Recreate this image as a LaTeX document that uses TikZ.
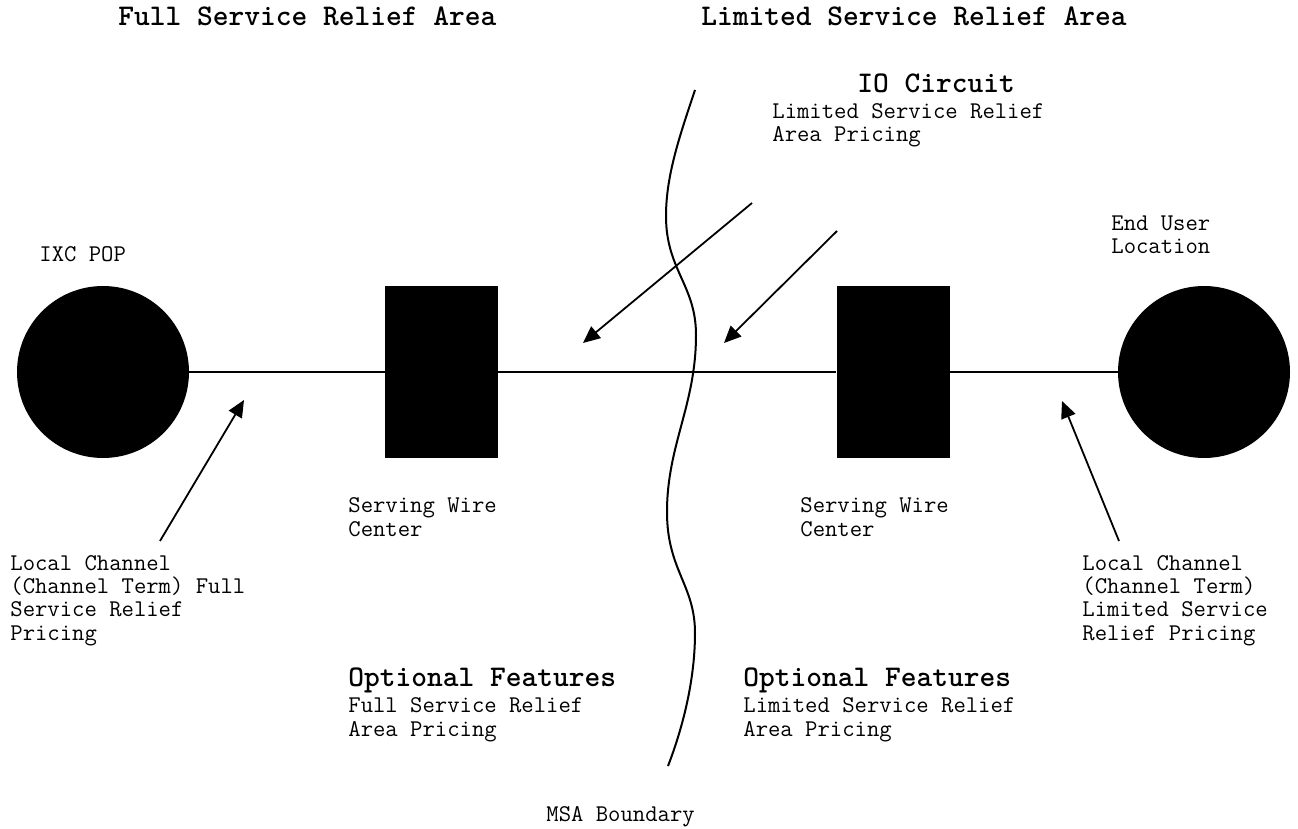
\documentclass[tikz,border=0pt]{standalone}
\usepackage{fontspec}
\usetikzlibrary{arrows.meta}

\tikzset{
  site/.style={circle, fill=black, minimum size=86pt, inner sep=0pt},
  wirectr/.style={rectangle, fill=black, minimum width=56.5pt, minimum height=86pt, inner sep=0pt},
  txt/.style={anchor=base west, inner sep=0pt, align=left, font=\ttfamily\fontsize{12}{11.6}\selectfont},
  hdr/.style={anchor=base west, inner sep=0pt, font=\ttfamily\bfseries\fontsize{15}{16}\selectfont},
  ptr/.style={line width=0.9pt, -{Triangle[length=8.5pt, width=7.5pt]}}
}

\begin{document}
\begin{tikzpicture}[x=0.5pt, y=-0.5pt]
 \useasboundingbox (0,0) rectangle (1298,829);

 %%%%%%%%%% Points pour travailler %%%%%%%%%%
 \coordinate (ioA0) at (752,203);
 \coordinate (ioA1) at (583,343);
 \coordinate (ioB0) at (837,231);
 \coordinate (ioB1) at (724,343);
 \coordinate (lcL0) at (160,541);
 \coordinate (lcL1) at (244,400);
 \coordinate (lcR0) at (1119,541);
 \coordinate (lcR1) at (1062,401);
 \coordinate (msaTop) at (695,90);
 \coordinate (msaBot) at (668,766);

 %%%%%%%%%% Sites and wire centers %%%%%%%%%%
 \node[site] (pop) at (103,372) {};
 \node[wirectr] (swcL) at (441.5,372) {};
 \node[wirectr] (swcR) at (893,372) {};
 \node[site] (user) at (1204,372) {};

 \draw [line width=1pt] (pop) -- (swcL) -- (swcR) -- (user) ;

 %%%%%%%%%% MSA boundary %%%%%%%%%%
 \draw [line width=1pt] (msaTop) .. controls (680,135) and (666,175) .. (666,216)
   .. controls (666,270) and (696,285) .. (696,335)
   .. controls (696,405) and (667,445) .. (667,512)
   .. controls (667,570) and (695,585) .. (695,633)
   .. controls (695,685) and (680,735) .. (msaBot) ;

 %%%%%%%%%% Pointers %%%%%%%%%%
 \draw [ptr] (ioA0) -- (ioA1) ;
 \draw [ptr] (ioB0) -- (ioB1) ;
 \draw [ptr] (lcL0) -- (lcL1) ;
 \draw [ptr] (lcR0) -- (lcR1) ;

 %%%%%%%%%% Labels (base = last line) %%%%%%%%%%
 \node[hdr] (hdFull) at (118,26) {Full Service Relief Area};
 \node[hdr] (hdLtd) at (701,26) {Limited Service Relief Area};
 \node[hdr] (ioHd) at (857,93) {IO Circuit};
 \node[txt] (ioTxt) at (772,142) {Limited Service Relief\\Area Pricing};
 \node[txt] (popTxt) at (39,262) {IXC POP};
 \node[txt] (userTxt) at (1111,254) {End User\\Location};
 \node[txt] (swcLTxt) at (348,536) {Serving Wire\\Center};
 \node[txt] (swcRTxt) at (800,536) {Serving Wire\\Center};
 \node[txt] (lcLTxt) at (10,640) {Local Channel\\(Channel Term) Full\\Service Relief\\Pricing};
 \node[txt] (lcRTxt) at (1082,640) {Local Channel\\(Channel Term)\\Limited Service\\Relief Pricing};
 \node[hdr] (optLHd) at (348,686) {Optional Features};
 \node[txt] (optLTxt) at (348,736) {Full Service Relief\\Area Pricing};
 \node[hdr] (optRHd) at (743,686) {Optional Features};
 \node[txt] (optRTxt) at (743,736) {Limited Service Relief\\Area Pricing};
 \node[txt] (msaTxt) at (546,821) {MSA Boundary};

\end{tikzpicture}
\end{document}
